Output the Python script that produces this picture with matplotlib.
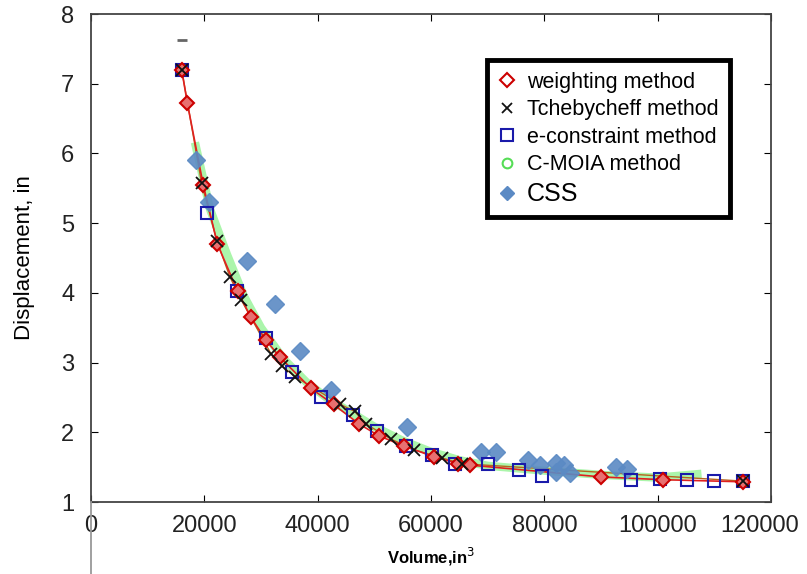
import matplotlib
matplotlib.use("Agg")
import matplotlib.pyplot as plt
from matplotlib.lines import Line2D
from matplotlib.transforms import ScaledTranslation

plt.rcParams['font.family'] = ['Liberation Sans', 'DejaVu Sans']

# Weighting method
w_vol = [16000, 17000, 19800, 22300, 25900, 28200, 30800, 33300, 38800, 42800,
         47300, 50800, 55300, 60500, 64800, 66800, 90000, 101000, 115000]
w_disp = [7.2, 6.72, 5.55, 4.70, 4.02, 3.65, 3.33, 3.08, 2.63, 2.40,
          2.12, 1.95, 1.80, 1.65, 1.55, 1.53, 1.36, 1.32, 1.29]

# Tchebycheff method
t_vol = [16000, 19500, 22200, 24500, 26500, 31800, 33700, 36000, 44000, 46500,
         48500, 53000, 57000, 62000, 65500, 115000]
t_disp = [7.2, 5.58, 4.75, 4.23, 3.90, 3.12, 2.95, 2.80, 2.40, 2.30,
          2.12, 1.90, 1.75, 1.63, 1.55, 1.30]

# e-constraint method
e_vol = [16000, 20500, 25700, 30800, 35400, 40500, 46200, 50500, 55500, 60200,
         64200, 70000, 75500, 79500, 95300, 100400, 105200, 110000, 115000]
e_disp = [7.2, 5.15, 4.03, 3.35, 2.87, 2.50, 2.25, 2.02, 1.80, 1.67,
          1.55, 1.55, 1.46, 1.37, 1.31, 1.33, 1.32, 1.30, 1.30]

# C-MOIA method
c_vol = [18500, 21000, 24000, 27000, 30000, 34000, 38000, 42000, 46000, 50000,
         55000, 60000, 65000, 70000, 80000, 90000, 100000, 107000]
c_disp = [6.10, 5.20, 4.55, 3.95, 3.50, 3.05, 2.72, 2.47, 2.28, 2.08,
          1.88, 1.72, 1.60, 1.52, 1.45, 1.39, 1.35, 1.40]

# CSS
s_vol = [18500, 20800, 27600, 32500, 36800, 42400, 55700, 68800, 71400, 77200,
         79300, 82000, 82100, 83400, 84600, 92700, 94500]
s_disp = [5.90, 5.30, 4.46, 3.84, 3.17, 2.61, 2.08, 1.72, 1.72, 1.60,
          1.53, 1.56, 1.43, 1.53, 1.42, 1.50, 1.48]

# stray grey dash near the top
stray_vol = [16000]
stray_disp = [7.62]

x_ticks = [0, 20000, 40000, 60000, 80000, 100000, 120000]
y_ticks = [1, 2, 3, 4, 5, 6, 7, 8]

fig = plt.figure(figsize=(8.07, 5.74), dpi=100)
ax = fig.add_axes([0.1128, 0.1254, 0.8426, 0.8502])

ax.plot(c_vol, c_disp, color='#66ee66', lw=6, alpha=0.55, zorder=1)
ax.plot(t_vol, t_disp, color='#b5651d', lw=1.0, zorder=2)
ax.plot(w_vol, w_disp, color='#e02020', lw=1.2, zorder=3)
ax.plot(s_vol, s_disp, linestyle='none', marker='D', ms=9, color='#5b8ac4',
        alpha=0.9, zorder=4)
ax.plot(e_vol, e_disp, linestyle='none', marker='s', ms=8, mfc='none',
        mec='#1a1aaa', mew=1.5, zorder=5)
ax.plot(w_vol, w_disp, linestyle='none', marker='D', ms=7, mfc='#e87070',
        mec='#cc0000', mew=1.5, zorder=6)
ax.plot(t_vol, t_disp, linestyle='none', marker='x', ms=8, color='#111111',
        mew=1.3, zorder=7)
ax.plot(stray_vol, stray_disp, linestyle='none', marker='_', ms=7,
        color='#666666', mew=2, zorder=7)

ax.set_xlim(0, 120000)
ax.set_ylim(1, 8)
ax.set_xticks(x_ticks)
ax.set_yticks(y_ticks)
ax.set_xticklabels([str(v) for v in x_ticks], fontsize=17, color='#222222')
ax.set_yticklabels([str(v) for v in y_ticks], fontsize=17, color='#222222')
ax.tick_params(direction='in', length=5, top=True, right=True)
ax.tick_params(axis='x', pad=9)
ax.tick_params(axis='y', pad=12)
last = ax.get_xticklabels()[-1]
last.set_transform(last.get_transform() +
                   ScaledTranslation(-8 / 72, 0, fig.dpi_scale_trans))
for s in ax.spines.values():
    s.set_color('#444444')
    s.set_linewidth(1.3)

# left spine continues down to the figure edge
fig.add_artist(Line2D([0.1128, 0.1128], [0.0, 0.1254], color='#999999', lw=1.3))

ax.set_xlabel('Volume,in$^3$', fontsize=12, fontweight='bold', labelpad=7)
ax.set_ylabel('Displacement, in', fontsize=16, labelpad=19)

handles = [
    Line2D([], [], ls='none', marker='D', ms=7, mfc='none', mec='#cc0000', mew=1.5),
    Line2D([], [], ls='none', marker='x', ms=7, color='#111111', mew=1.3),
    Line2D([], [], ls='none', marker='s', ms=8, mfc='none', mec='#1a1aaa', mew=1.5),
    Line2D([], [], ls='none', marker='o', ms=7, mfc='none', mec='#55dd55', mew=1.5),
    Line2D([], [], ls='none', marker='D', ms=7, color='#5b8ac4'),
]
labels = ['weighting method', 'Tchebycheff method', 'e-constraint method',
          'C-MOIA method', 'CSS']
leg = ax.legend(handles, labels, loc='upper left', bbox_to_anchor=(0.582, 0.906),
                borderaxespad=0, fontsize=15.5, frameon=True, fancybox=False,
                framealpha=1, handletextpad=0.5, handlelength=0.8,
                borderpad=0.55, labelspacing=0.3)
leg.get_frame().set_edgecolor('black')
leg.get_frame().set_linewidth(3.5)
leg.get_texts()[4].set_fontsize(18)

fig.savefig('out.png', dpi=100)
